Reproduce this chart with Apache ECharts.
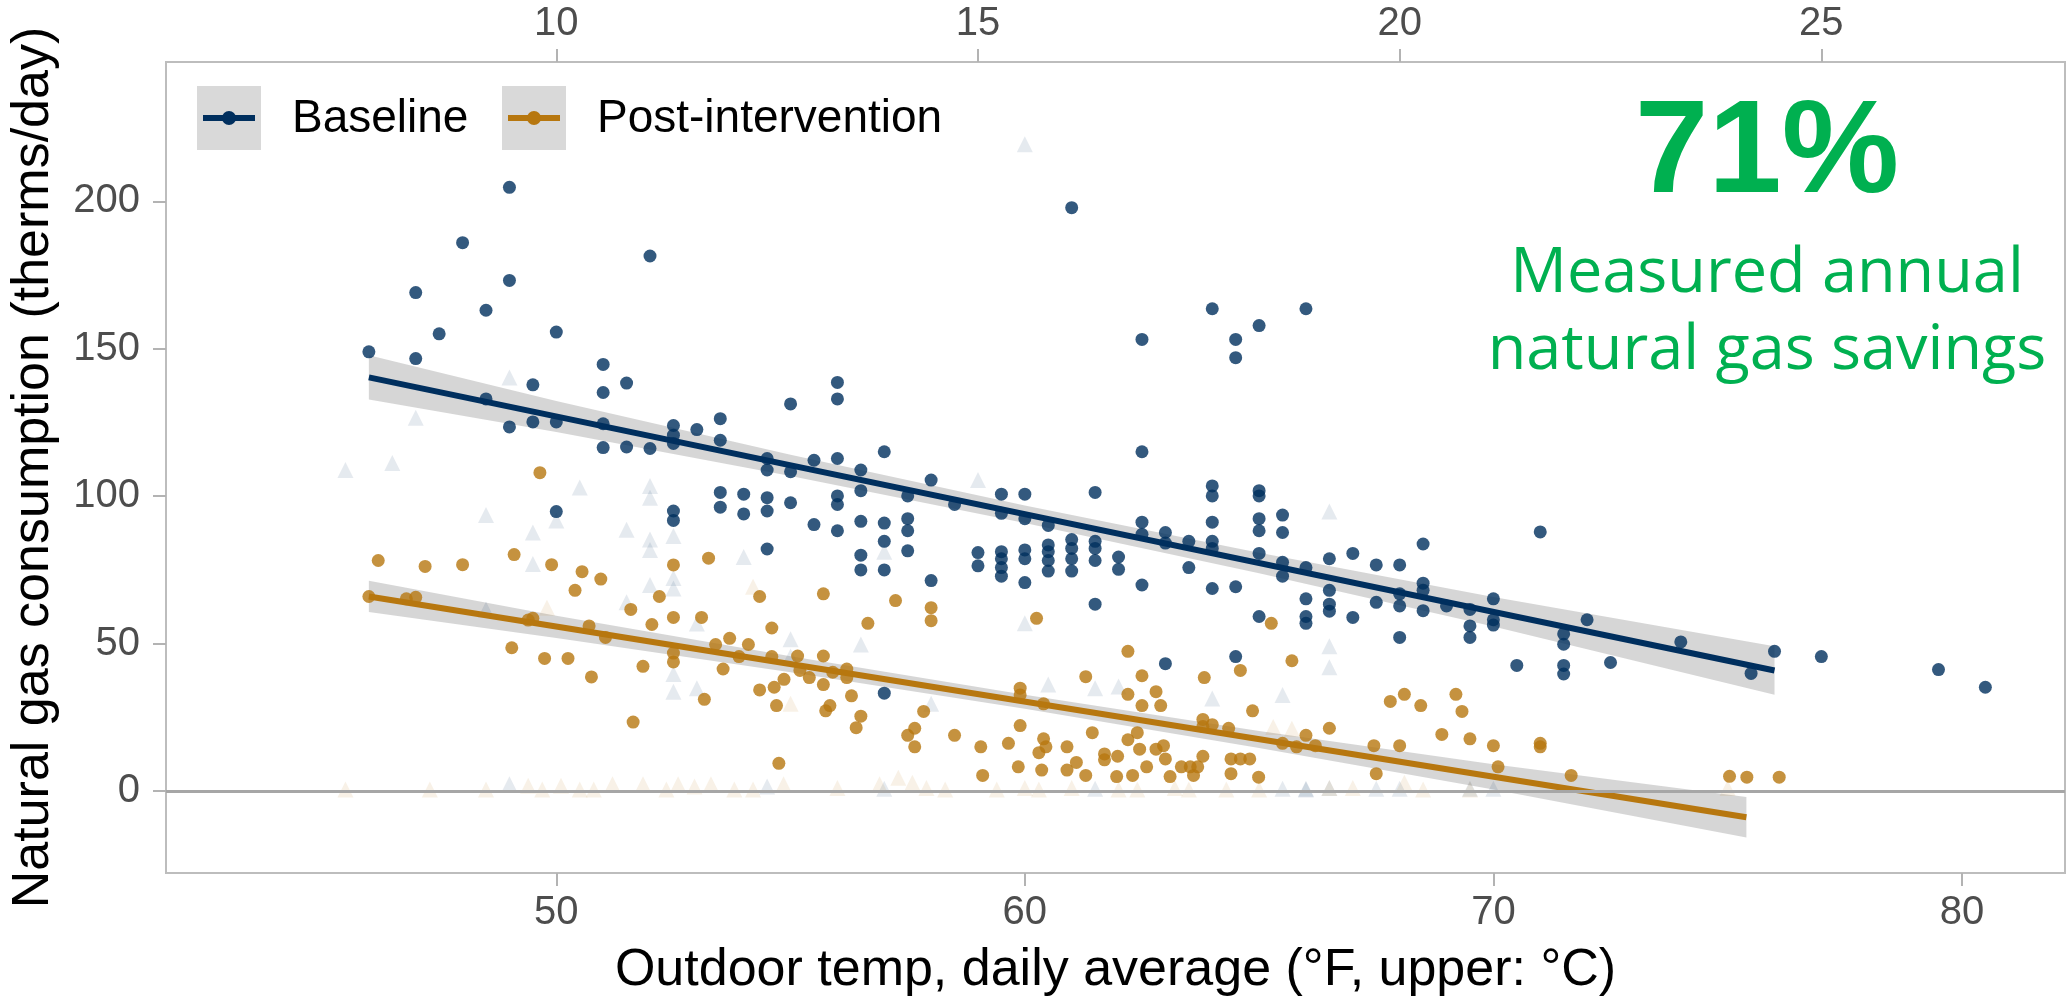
<!DOCTYPE html>
<html>
<head>
<meta charset="utf-8">
<script src="https://cdn.jsdelivr.net/npm/echarts@6/dist/echarts.min.js"></script>
<style>
  html, body { margin: 0; padding: 0; background: #ffffff; }
  #main { width: 2066px; height: 1002px; }
</style>
</head>
<body>
<div id="main"></div>
<script>
// ---- data (°F, therms/day) ----
const baselinePoints = [
  [49.0,204.8],[48.0,186.0],[52.0,181.5],[47.0,169.1],[49.0,173.2],[48.5,163.1],[47.5,155.1],[50.0,155.7],
  [46.0,149.0],[47.0,146.7],[51.0,144.7],[51.5,138.4],[49.5,137.8],[51.0,135.2],[48.5,133.0],[49.0,123.5],
  [49.5,125.2],[50.0,125.2],[51.0,124.6],[52.5,124.0],[53.0,122.6],[52.5,120.7],[51.0,116.5],[51.5,116.7],
  [52.0,116.2],[52.5,117.9],[50.0,94.8],
  [61.0,197.9],[64.0,163.6],[62.5,153.2],[65.0,157.9],[64.5,153.2],[64.5,147.0],[66.0,163.6],
  [53.5,126.3],[53.5,119.0],[54.5,112.8],[54.5,108.9],[55.0,131.3],[55.0,108.3],[55.5,112.2],
  [56.0,138.6],[56.0,133.0],[56.0,112.8],[56.5,108.9],[57.0,115.1],[62.5,115.1],
  [58.0,105.5],[52.5,95.0],[52.5,91.8],[53.5,101.3],[53.5,96.3],[54.0,100.7],[54.0,94.0],
  [54.5,99.5],[54.5,95.0],[54.5,82.1],[55.0,97.8],[55.5,90.4],[56.0,100.1],[56.0,97.2],[56.0,88.3],
  [56.5,101.9],[56.5,91.5],[56.5,80.0],[56.5,75.0],[57.0,90.9],[57.0,84.7],[57.0,75.0],[57.0,33.2],
  [57.5,100.1],[57.5,92.4],[57.5,88.3],[57.5,81.5],[58.0,71.4],[58.5,97.2],[59.0,80.9],[59.0,76.4],
  [59.5,100.7],[59.5,94.2],[59.5,81.2],[59.5,78.8],[59.5,75.8],[59.5,72.9],
  [60.0,100.7],[60.0,92.4],[60.0,81.8],[60.0,78.8],[60.0,70.7],
  [60.5,90.1],[60.5,83.5],[60.5,81.2],[60.5,78.2],[60.5,74.6],
  [61.0,85.3],[61.0,82.3],[61.0,78.8],[61.0,74.6],
  [61.5,101.3],[61.5,84.7],[61.5,82.3],[61.5,78.2],[61.5,63.4],[62.0,79.4],[62.0,75.2],
  [62.5,91.2],[62.5,87.1],[62.5,69.9],[63.0,87.7],[63.0,84.1],[63.0,43.2],[63.5,84.7],[63.5,75.8],
  [64.0,103.5],[64.0,100.1],[64.0,91.2],[64.0,84.7],[64.0,82.3],[64.0,68.7],[64.5,69.3],[64.5,45.6],
  [65.0,101.9],[65.0,100.1],[65.0,92.4],[65.0,88.3],[65.0,80.6],[65.0,59.2],
  [65.5,93.6],[65.5,87.7],[65.5,77.6],[65.5,72.9],
  [66.0,75.8],[66.0,65.2],[66.0,59.2],[66.0,56.9],[66.5,78.8],[66.5,68.1],[66.5,63.4],[66.5,61.0],
  [67.0,80.6],[67.0,58.9],[67.5,76.7],[67.5,64.0],[68.0,76.7],[68.0,66.9],[68.0,62.8],[68.0,52.1],
  [68.5,83.8],[68.5,70.5],[68.5,68.1],[68.5,61.2],[69.0,62.8],[69.5,61.6],[69.5,56.0],[69.5,52.1],
  [70.0,65.2],[70.0,58.1],[70.0,56.3],[70.5,42.6],[71.0,87.9],[71.5,53.3],[71.5,49.8],[71.5,42.6],
  [71.5,39.7],[72.0,58.1],[72.5,43.6],[74.0,50.6],[75.5,39.9],[76.0,47.4],[77.0,45.6],[79.5,41.2],[80.5,35.2]
];

const postPoints = [
  [49.65,108.0],[46.2,78.2],[47.2,76.2],[48.0,76.8],[49.1,80.2],[49.9,76.8],[46.0,66.0],[46.8,65.2],
  [47.0,65.7],[50.55,74.4],[50.95,71.9],[50.4,68.1],[49.5,58.6],[49.4,58.0],[50.7,56.0],[51.05,52.1],
  [49.05,48.6],[49.75,45.0],[50.25,45.0],[50.75,38.7],
  [51.59,61.6],[51.85,42.3],[51.64,23.4],[52.2,66.0],[52.04,56.5],[52.5,76.7],[52.5,58.9],[52.5,46.8],
  [52.5,43.8],[53.1,58.9],[53.25,79.0],[53.16,31.1],[53.4,49.7],[53.56,41.4],[53.7,51.8],[53.9,45.6],
  [54.1,49.7],[54.34,66.0],[54.34,34.3],[54.6,55.3],[54.6,45.6],[54.65,35.2],[54.7,29.0],[54.86,37.9],
  [54.75,9.4],[55.15,45.8],[55.2,40.9],[55.4,38.5],[55.7,66.9],[55.7,45.8],[55.7,36.1],[55.75,27.2],
  [55.84,29.0],[55.9,40.3],[56.2,41.4],[56.2,38.5],[56.3,32.3],[56.5,25.4],[56.4,21.5],[56.65,56.9],
  [57.24,64.6],[57.84,27.0],[58.0,62.2],[58.0,57.8],[57.65,21.3],[57.5,18.9],[57.65,15.0],[58.5,18.9],
  [59.06,15.0],[59.1,5.3],[59.65,16.2],[59.86,8.2],[59.9,34.9],[59.9,32.6],[59.9,22.2],[60.25,58.6],
  [60.4,29.6],[60.4,17.7],[60.45,15.0],[60.3,13.0],[60.36,7.1],[60.9,15.0],[61.1,9.7],[60.9,7.1],
  [61.3,38.8],[61.3,5.3],[61.44,19.8],[61.7,12.6],[61.7,10.6],[61.98,11.8],[61.96,4.9],[62.2,47.4],
  [62.2,17.4],[62.2,32.8],[62.4,19.8],[62.45,14.2],[62.5,39.1],[62.3,5.3],[62.6,8.2],[62.5,29.0],
  [62.8,33.7],[62.9,29.0],[62.8,14.2],[62.96,15.4],[63.0,10.9],[63.1,4.9],[63.34,8.2],[63.53,8.2],
  [63.69,8.2],[63.6,5.3],[63.83,38.5],[63.8,24.3],[64.0,22.5],[63.8,21.9],[63.8,11.8],[64.35,21.3],
  [64.4,10.9],[64.6,10.9],[64.8,10.9],[64.4,5.9],[64.6,40.9],[64.86,27.2],[64.99,4.7],[65.26,56.9],
  [65.7,44.2],[65.5,16.2],[65.8,15.0],[66.2,15.4],[66.0,18.9],[66.5,21.3],[67.45,15.4],[67.5,5.9],
  [67.8,30.4],[68.1,32.8],[68.0,15.4],[68.45,29.0],[68.9,19.2],[69.2,32.8],[69.33,27.0],[69.5,17.7],
  [70.0,15.4],[70.1,8.2],[71.0,16.2],[71.0,15.0],[71.66,5.3],[75.04,5.0],[75.41,4.7],[76.1,4.7]
];

// faint excluded days (triangles)
const baselineExcluded = [
  [45.5,108.9],[46.5,111.3],[47.0,126.6],[49.0,140.3],[50.5,103.0],[52.0,103.5],[48.5,93.6],[49.5,87.7],
  [49.5,77.0],[50.0,91.8],[51.5,88.6],[52.0,99.5],[52.0,85.3],[52.0,81.8],[52.0,69.9],[51.5,64.0],
  [52.5,86.5],[52.5,72.3],[52.5,68.7],[52.5,39.7],[52.5,33.7],[48.5,61.6],[49.0,2.3],[53.0,56.8],
  [53.0,34.9],[54.0,79.4],[55.0,51.5],[55.0,45.6],[56.5,49.7],[57.0,81.2],[58.0,29.6],[59.0,105.5],
  [60.0,56.9],[60.0,219.4],[60.5,36.1],[61.5,34.9],[62.0,35.5],[64.0,31.4],[65.5,32.6],[66.5,94.8],
  [66.5,49.1],[66.5,42.0],[61.5,0.8],[65.5,0.8],[66.0,0.8],[66.0,0.5],[66.5,1.0],[67.5,0.8],[68.0,0.8],
  [69.5,0.8],[70.0,0.8],[54.5,1.5],[57.0,0.8]
];
const postExcluded = [
  [45.5,0.5],[47.3,0.5],[48.5,0.5],[49.4,1.8],[49.7,0.5],[50.1,1.8],[50.5,0.5],[50.8,0.5],[51.2,2.3],
  [51.85,2.3],[52.35,0.5],[52.6,2.3],[52.95,1.5],[53.3,2.3],[53.8,0.5],[54.2,0.5],[54.85,2.3],[56.0,1.0],
  [56.9,2.3],[57.3,4.5],[57.6,2.8],[57.9,1.0],[58.3,0.5],[59.4,0.5],[60.0,1.0],[60.3,0.5],[61.0,1.0],
  [62.0,0.5],[62.4,0.5],[63.2,1.0],[63.5,0.5],[64.3,0.5],[65.0,0.5],[66.5,1.0],[67.0,1.0],[68.1,2.8],
  [68.5,0.5],[69.5,0.5],[75.0,1.0],[49.8,62.2],[54.2,69.3],[55.0,29.6],[65.3,21.7],[65.7,21.1]
];

// fitted lines and 95% bands
const baselineFitX = [46.0, 76.0];
const baselineFitY = [140.3, 40.9];
const postFitX = [46.0, 75.4];
const postFitY = [66.0, -8.9];

const baselineBandX = [46, 50, 55, 60, 65, 70, 76];
const baselineUpper = [147.8, 132.3, 114.1, 96.9, 80.8, 65.8, 49.1];
const baselineLower = [132.8, 121.8, 106.9, 90.9, 73.9, 55.8, 32.7];
const postBandX = [46, 50, 55, 60, 65, 70, 75.4];
const postUpper = [71.3, 59.5, 45.7, 32.7, 20.4, 9.1, -2.0];
const postLower = [60.7, 51.9, 40.3, 27.9, 14.6, 0.5, -15.8];

const fTicks = [50, 60, 70, 80];
const cTicks = [10, 15, 20, 25];
const yTicks = [0, 50, 100, 150, 200];

// ---- look ----
const NAVY = '#002f5e';
const GOLD = '#b7770f';
const GREEN = '#00b050';
const FONT = '"Liberation Sans", Arial, sans-serif';
const fMin = 41.67, fMax = 82.2;

function zip(xs, ys) {
  return xs.map((x, i) => [x, ys[i]]);
}

function bandSeries(xs, lo, hi) {
  return {
    type: 'custom',
    silent: true,
    data: xs.map((x, i) => [x, lo[i], hi[i]]),
    encode: { x: 0, y: [1, 2] },
    renderItem: function (params, api) {
      if (params.dataIndex !== 0) return;
      const pts = [];
      for (let i = 0; i < xs.length; i++) pts.push(api.coord([xs[i], hi[i]]));
      for (let i = xs.length - 1; i >= 0; i--) pts.push(api.coord([xs[i], lo[i]]));
      return {
        type: 'polygon',
        shape: { points: pts },
        style: { fill: 'rgba(153,153,153,0.4)' }
      };
    }
  };
}

function axisCommon(ticks) {
  return {
    axisLine: { show: true, onZero: false, lineStyle: { color: '#bdbdbd', width: 2 } },
    axisTick: { show: true, length: 13, customValues: ticks, lineStyle: { color: '#b3b3b3', width: 2 } },
    axisLabel: { customValues: ticks, fontSize: 40, color: '#4d4d4d', fontFamily: FONT },
    splitLine: { show: false }
  };
}

const chart = echarts.init(document.getElementById('main'));

const xBottom = Object.assign(axisCommon(fTicks), {
  type: 'value', position: 'bottom', min: fMin, max: fMax,
  name: 'Outdoor temp, daily average (°F, upper: °C)',
  nameLocation: 'middle', nameGap: 72,
  nameTextStyle: { fontSize: 52, color: '#000000', fontFamily: FONT }
});
xBottom.axisLabel.margin = 20;

const xTop = Object.assign(axisCommon(cTicks), {
  type: 'value', position: 'top',
  min: (fMin - 32) * 5 / 9, max: (fMax - 32) * 5 / 9
});
xTop.axisLabel.margin = 18;

const yLeft = Object.assign(axisCommon(yTicks), {
  type: 'value', min: -27.8, max: 247.3,
  name: 'Natural gas consumption (therms/day)',
  nameLocation: 'middle', nameGap: 106, nameRotate: 90,
  nameTextStyle: { fontSize: 52, color: '#000000', fontFamily: FONT }
});
yLeft.axisLabel.margin = 26;

const option = {
  animation: false,
  backgroundColor: '#ffffff',
  grid: { left: 163, right: 1, top: 62, bottom: 123, show: true, borderColor: '#bdbdbd', borderWidth: 2 },
  xAxis: [xBottom, xTop],
  yAxis: yLeft,
  series: [
    {
      type: 'scatter', symbol: 'triangle', symbolSize: 16, silent: true,
      itemStyle: { color: NAVY, opacity: 0.1 },
      data: baselineExcluded,
      markLine: {
        silent: true, symbol: 'none', label: { show: false },
        lineStyle: { color: '#a6a6a6', width: 3, type: 'solid', opacity: 1 },
        data: [{ yAxis: 0 }]
      }
    },
    {
      type: 'scatter', symbol: 'triangle', symbolSize: 16, silent: true,
      itemStyle: { color: GOLD, opacity: 0.1 },
      data: postExcluded
    },
    { type: 'scatter', symbolSize: 13, itemStyle: { color: NAVY }, data: baselinePoints },
    { type: 'scatter', symbolSize: 13, itemStyle: { color: GOLD }, data: postPoints },
    bandSeries(baselineBandX, baselineLower, baselineUpper),
    bandSeries(postBandX, postLower, postUpper),
    {
      type: 'line', showSymbol: false, silent: true,
      lineStyle: { color: NAVY, width: 6 },
      data: zip(baselineFitX, baselineFitY)
    },
    {
      type: 'line', showSymbol: false, silent: true,
      lineStyle: { color: GOLD, width: 6 },
      data: zip(postFitX, postFitY)
    }
  ],
  graphic: [
    // legend keys
    { type: 'rect', left: 197, top: 86, shape: { width: 64, height: 64 }, style: { fill: '#d9d9d9' } },
    { type: 'line', shape: { x1: 203, y1: 118, x2: 255, y2: 118 }, style: { stroke: NAVY, lineWidth: 6 } },
    { type: 'circle', shape: { cx: 229, cy: 118, r: 7 }, style: { fill: NAVY } },
    { type: 'text', x: 292, y: 119, style: { text: 'Baseline', font: '46px ' + FONT, fill: '#000000', textVerticalAlign: 'middle' } },
    { type: 'rect', left: 502, top: 86, shape: { width: 64, height: 64 }, style: { fill: '#d9d9d9' } },
    { type: 'line', shape: { x1: 508, y1: 118, x2: 560, y2: 118 }, style: { stroke: GOLD, lineWidth: 6 } },
    { type: 'circle', shape: { cx: 534, cy: 118, r: 7 }, style: { fill: GOLD } },
    { type: 'text', x: 597, y: 119, style: { text: 'Post-intervention', font: '46px ' + FONT, fill: '#000000', textVerticalAlign: 'middle' } },
    // savings callout
    { type: 'text', x: 1767, y: 156, style: { text: '71%', font: 'bold 132px ' + FONT, fill: GREEN, textAlign: 'center', textVerticalAlign: 'middle' } },
    { type: 'text', x: 1767, y: 274, style: { text: 'Measured annual', font: '63px "Open Sans", sans-serif', fill: GREEN, textAlign: 'center', textVerticalAlign: 'middle' } },
    { type: 'text', x: 1767, y: 351, style: { text: 'natural gas savings', font: '63px "Open Sans", sans-serif', fill: GREEN, textAlign: 'center', textVerticalAlign: 'middle' } }
  ]
};

chart.setOption(option);
</script>
</body>
</html>
